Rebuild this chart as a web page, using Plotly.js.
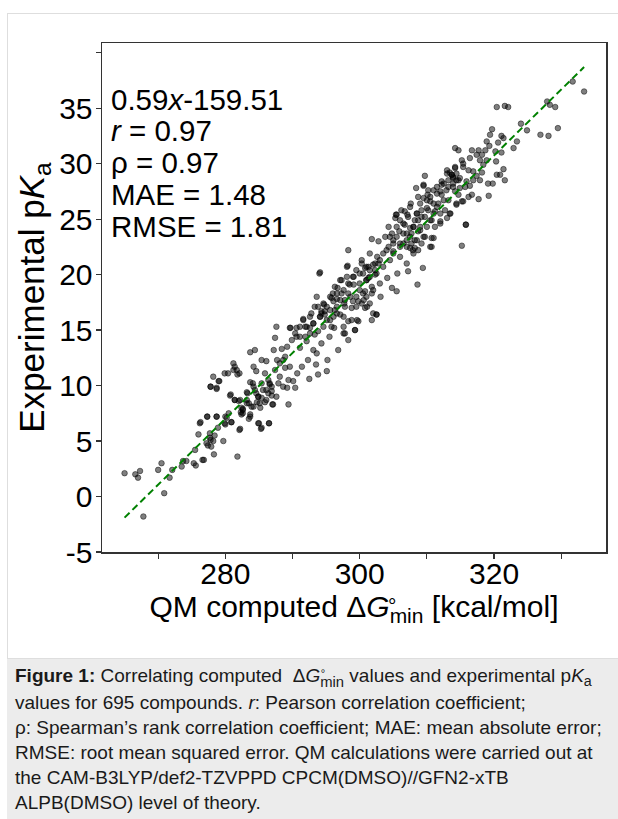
<!DOCTYPE html>
<html>
<head>
<meta charset="utf-8">
<script src="https://cdn.plot.ly/plotly-3.0.1.min.js"></script>
<style>
  html, body { margin:0; padding:0; background:#fff; }
  #wrap { position:relative; width:618px; height:819px; overflow:hidden; font-family:"Liberation Sans", Arial, Helvetica, sans-serif; }
  #frame { position:absolute; left:7px; top:13px; width:620px; height:646px; border:1px solid #dedede; box-sizing:border-box; }
  #chart { position:absolute; left:0; top:0; width:618px; height:659px; }
  #caption { position:absolute; left:7px; top:659px; width:611px; height:160px; background:#ececec; box-sizing:border-box;
             padding:4px 0 0 8px; font-size:19px; line-height:25px; color:#1a1a1a; white-space:nowrap; }
  .stk { position:relative; display:inline-block; font-size:0.78em; vertical-align:-0.32em; line-height:1; }
  .stk .deg { position:absolute; left:0.05em; top:-0.62em; font-size:0.75em; }
  .sb { font-size:0.75em; vertical-align:-0.3em; line-height:1; }
</style>
</head>
<body>
<div id="wrap">
  <div id="frame"></div>
  <div id="chart"></div>
  <div id="caption"><b>Figure 1:</b> Correlating computed &nbsp;Δ<i>G</i><span class="stk">min<span class="deg">°</span></span> values and experimental p<i>K</i><span class="sb">a</span><br>values for 695 compounds. <i>r</i>: Pearson correlation coefficient;<br>ρ: Spearman’s rank correlation coefficient; MAE: mean absolute error;<br>RMSE: root mean squared error. QM calculations were carried out at<br>the CAM-B3LYP/def2-TZVPPD CPCM(DMSO)//GFN2-xTB<br>ALPB(DMSO) level of theory.</div>
</div>
<script>
// ---- data ----
// lower-left region
const dgA  = [265.0,266.6,267.0,267.3,267.8,270.0,270.5,270.9,271.7,272.1,273.5,273.7,274.2,275.3,275.6,275.5,276.0,276.3,276.6,276.8,277.3,277.4,277.7,277.8,278.2,278.3,278.4,278.7,278.9,277.8,278.7,279.0,279.7,280.0,280.0,280.5,280.7,280.9,281.4,281.8,282.0,282.1,282.3,282.4,282.6,283.3,283.5,283.7,283.5,283.9,284.1,284.7,284.9,284.9,285.2,285.3,285.9,286.4,286.5,286.6,287.1,286.9,
              277.2,277.9,277.7,282.4,283.2,285.4,286.1,286.9,284.4,285.4];
const pkaA = [2.1,2.0,1.7,2.3,-1.8,2.4,3.0,0.3,1.7,2.4,2.7,3.2,3.2,3.0,2.8,4.2,5.6,6.7,3.3,3.3,7.2,4.6,5.7,5.1,5.0,3.8,5.5,7.2,6.2,9.9,9.7,10.4,5.0,7.2,6.5,7.5,9.1,6.7,8.7,3.6,8.6,6.0,7.6,7.4,7.8,9.3,7.0,7.4,8.4,8.1,10.2,8.5,9.0,6.6,8.0,6.1,8.5,9.3,6.6,10.2,8.3,9.1,
              4.8,4.5,5.3,8.0,8.7,8.9,9.6,9.9,9.6,10.2];
// lower-middle region
const dgB  = [276.2,277.3,278.7,278.2,277.8,278.7,279.1,279.9,280.4,281.2,281.4,281.7,282.1,280.8,279.9,280.2,280.9,281.4,282.2,282.2,282.6,282.6,283.2,283.2,283.7,283.7,284.4,284.2,284.6,284.9,285.0,285.4,286.5,285.6,286.1,285.4,285.9,286.1,286.6,287.0,286.9,287.2,287.4,287.6,287.7,288.1,287.9,288.4,288.6,288.9,289.2,289.4,289.2,289.7,289.9,290.1,290.4,290.7,290.6,291.1,291.4,291.6,291.9,292.1,292.3,292.5,292.6,292.8,293.1,293.3,293.5,293.6,293.8,293.8,294.0,294.1,294.3,294.6,294.7,294.8,295.2,295.1,295.5,295.6,295.8,296.0,296.2,296.3,296.6,296.7,296.8,297.1,297.3,297.6,297.7,297.8,298.1,298.2,298.3,298.3,298.6,298.8,299.1,299.3,299.6,299.8,300.0,300.3,300.5,300.8,301.0,301.3,301.5,301.8,302.0,302.3,302.5,302.8,
              281.2,281.8,284.2,284.6,285.1,284.2,283.7,286.4,287.4,288.1,288.9,289.6,289.4,288.6,287.6,291.1,292.1,293.1,293.8,294.3,295.1,296.1,296.6,297.6,298.3,299.1,299.5,300.8,301.5,302.0,301.0,297.6];
const pkaB = [6.6,7.2,7.2,10.8,9.9,9.8,10.4,11.1,11.1,12.0,11.7,11.4,11.1,9.2,6.6,7.1,6.7,8.7,8.7,6.1,7.5,7.9,9.4,8.4,10.3,13.0,13.2,11.7,11.3,9.0,6.6,6.2,6.6,9.6,8.7,12.3,11.1,12.2,10.1,8.3,9.5,13.2,14.3,15.3,12.3,10.8,10.2,13.3,12.3,11.6,13.5,8.3,9.8,15.2,14.1,10.4,9.8,11.1,15.2,13.4,11.7,15.9,14.4,14.0,12.3,10.6,15.2,16.5,13.2,14.6,11.9,12.9,11.0,17.1,20.1,16.2,13.8,15.3,17.3,16.7,12.3,11.3,14.4,15.9,17.9,18.3,15.2,16.8,17.8,18.8,13.2,16.4,19.5,15.3,17.4,14.7,19.8,20.8,15.8,14.1,18.0,17.0,19.1,15.0,15.9,17.6,20.1,21.0,18.3,17.0,19.5,20.7,17.4,15.9,18.6,20.0,16.4,21.0,
              11.4,11.0,9.9,9.3,8.4,8.1,7.2,10.5,11.4,12.0,12.6,11.7,10.5,9.9,9.0,14.4,15.3,15.6,14.9,16.5,17.1,17.6,18.3,18.6,19.2,19.8,20.4,20.6,19.8,20.9,18.0,16.2];
// central region
const dgC  = [289.6,290.4,291.6,291.9,292.6,293.6,294.1,293.3,294.3,294.8,294.6,295.6,295.8,296.1,296.3,296.6,297.1,297.3,297.6,297.8,298.1,298.3,298.5,298.8,299.0,299.3,299.5,299.8,300.0,300.3,300.5,300.6,301.0,301.1,301.3,301.5,301.8,301.8,302.0,302.3,302.5,302.6,302.8,303.0,303.1,303.5,303.8,304.0,304.1,304.3,304.5,304.8,305.0,305.3,305.4,305.5,305.6,305.9,306.0,306.2,306.5,306.7,307.0,307.1,307.2,307.5,307.6,307.9,308.2,308.4,308.5,308.6,308.7,309.0,309.2,309.4,309.5,309.7,309.7,310.0,310.2,310.5,310.7,311.0,311.2,311.5,311.7,312.0,312.2,312.5,312.7,313.0,313.2,313.5,313.9,314.2,314.4,314.7,314.9,315.2,315.4,315.8,315.9,315.4,314.2,
              313.0,313.7,314.4,314.9,313.9,313.2,312.2,311.5,310.5,311.0,310.0,309.2,308.5,308.0,308.7,307.5,307.7,308.2,307.0,306.5,306.0,305.5,304.5,304.3,305.0,303.5,303.0,302.3,301.5,302.5,301.0,301.8,300.8,300.0,299.5,300.3,299.0,298.3,297.8,297.1,296.6,295.6,295.1,294.1,293.1,292.6,291.1,290.6];
const pkaC = [15.2,14.7,16.0,15.3,14.7,18.0,20.2,17.1,16.7,16.4,17.4,18.0,15.3,16.2,18.9,17.1,19.5,18.3,14.7,17.7,20.7,22.2,19.1,15.9,19.8,15.0,17.1,15.8,18.6,21.3,20.1,17.7,20.7,17.1,19.7,21.9,23.2,18.3,16.5,20.4,16.4,21.6,23.0,19.2,18.0,20.7,23.4,22.2,19.7,24.3,21.3,18.8,22.8,25.1,25.4,18.5,20.1,23.9,21.6,25.8,22.8,24.5,21.0,25.4,20.3,23.4,26.4,22.2,24.9,27.8,23.1,19.1,27.0,24.3,25.8,20.6,28.1,28.9,23.4,26.7,27.6,24.9,22.5,23.3,25.7,27.9,26.4,24.8,27.2,28.2,25.8,29.1,26.7,25.5,28.8,27.5,26.4,28.5,27.8,22.6,26.6,24.5,28.4,30.0,29.7,
              29.4,29.0,29.1,28.7,28.2,27.9,28.4,27.3,27.0,26.4,26.0,25.2,25.5,24.3,23.9,24.2,22.8,22.4,23.1,23.7,22.5,23.4,23.4,22.5,21.9,21.9,21.3,21.0,20.4,20.1,19.5,18.9,18.5,19.2,18.0,17.4,17.6,18.3,17.1,17.7,16.5,16.8,15.9,16.2,15.6,16.2,15.3,14.4];
// upper region
const dgD  = [320.4,321.6,322.1,327.9,328.3,329.1,324.0,324.9,326.9,328.1,329.5,323.4,322.9,321.1,321.4,319.7,319.4,318.9,320.6,319.3,318.7,320.2,321.1,320.3,321.4,320.9,320.4,321.6,319.8,319.1,319.2,317.7,318.2,317.9,317.4,316.9,317.9,317.4,317.7,316.7,316.4,315.2,314.2,314.7,315.4,316.2,316.9,316.4,315.7,316.7,316.2,315.2,314.4,313.4,315.8,313.9,313.4,314.2,313.2,313.9,312.9,312.2,312.0,311.0,309.5,310.1,309.5,309.0,310.5,311.5,312.5,312.0,313.0,310.7,311.2,312.0,309.7,308.5,307.5,306.7,305.5,306.5,308.0,309.0,309.5,310.7,308.2,307.0,305.5,304.8,306.0,307.5,308.7,305.0,310.5,314.7,331.7,333.4,
              306.0,307.2,305.0,307.0,308.0,309.2,310.0,308.7,307.7,311.0,310.2,313.7,314.4,318.2,318.9,318.4];
const pkaD = [35.1,35.2,35.1,35.6,35.3,35.1,33.6,33.0,32.6,32.5,33.2,32.0,31.4,32.5,32.3,33.1,32.6,32.0,31.9,31.6,31.2,31.1,31.0,30.2,29.5,29.0,29.0,28.5,28.2,28.2,27.1,26.8,29.2,28.5,28.9,29.3,30.3,30.8,31.2,31.2,30.5,30.3,31.4,31.2,29.7,29.4,28.5,28.0,27.9,27.2,27.0,26.6,26.3,25.5,24.5,28.7,29.2,29.6,28.5,27.9,27.6,28.1,27.5,27.6,28.0,27.2,26.9,26.4,26.6,26.1,26.7,25.5,25.1,24.9,24.3,24.6,25.2,25.5,26.1,25.7,25.4,24.6,24.3,24.0,23.4,23.3,23.1,23.7,24.3,23.7,22.8,22.4,22.2,22.1,22.5,27.2,37.4,36.5,
              24.9,25.2,23.1,22.5,21.9,22.8,24.3,24.9,23.7,25.5,25.8,29.0,28.5,30.8,30.3,29.9];
// fitted line end points (as drawn)
const fitX = [265.0, 333.4];
const fitY = [-1.9, 38.7];
// ticks
const xTickVals = [280,300,320];
const xTickText = ['280','300','320'];
const xMinorVals = [270,290,310,330];
const yTickVals = [-5,0,5,10,15,20,25,30,35];
const yTickText = ['-5','0','5','10','15','20','25','30','35'];
const yMinorVals = [40];
const statLines = ['0.59<i>x</i>-159.51','<i>r</i> = 0.97','ρ = 0.97','MAE = 1.48','RMSE = 1.81'];

const dg  = dgA.concat(dgB, dgC, dgD);
const pka = pkaA.concat(pkaB, pkaC, pkaD);

const FONT = '"Liberation Sans", Arial, Helvetica, sans-serif';
const traces = [
  { type:'scatter', mode:'markers', x:dg, y:pka, hoverinfo:'skip',
    marker:{ size:5.6, color:'rgba(0,0,0,0.5)', line:{ color:'rgba(0,0,0,0.45)', width:1 } } },
  { type:'scatter', mode:'lines', x:fitX, y:fitY, hoverinfo:'skip',
    line:{ color:'#008000', width:2, dash:'7px,4px' } }
];
const axisCommon = {
  showgrid:false, zeroline:false, showline:true, mirror:true,
  linecolor:'#333', linewidth:1.5, ticks:'outside', ticklen:5, tickwidth:1.2, tickcolor:'#333',
  tickfont:{ family:FONT, size:30, color:'#000' }, tickmode:'array'
};
const annY = [0.8898, 0.8275, 0.7652, 0.7018, 0.6389];
const annotations = statLines.map((t,i)=>({
  text:t, xref:'paper', yref:'paper', x:0.014, y:annY[i], xanchor:'left', yanchor:'middle',
  showarrow:false, font:{ family:FONT, size:29.5, color:'#000' }
}));
// degree sign stacked above the "min" subscript of the x-axis title
annotations.push({ text:'°', xref:'paper', yref:'paper', x:0.576, y:-0.106, xanchor:'center', yanchor:'middle',
  showarrow:false, font:{ family:FONT, size:21, color:'#000' } });
const layout = {
  width:618, height:659, margin:{ l:102, r:12, t:43, b:107 },
  paper_bgcolor:'rgba(0,0,0,0)', plot_bgcolor:'#fff', showlegend:false,
  xaxis:Object.assign({}, axisCommon, { range:[261.64, 336.66], tickvals:xTickVals, ticktext:xTickText,
    ticklabelstandoff:-11,
    minor:{ tickmode:'array', tickvals:xMinorVals, ticks:'outside', ticklen:5, tickwidth:1.2, tickcolor:'#333', showgrid:false },
    title:{ text:'QM computed Δ<i>G</i><sub>min</sub> [kcal/mol]', font:{ family:FONT, size:30, color:'#000' }, standoff:4 } }),
  yaxis:Object.assign({}, axisCommon, { range:[-5, 40.87], tickvals:yTickVals, ticktext:yTickText,
    ticklabelstandoff:-3,
    minor:{ tickmode:'array', tickvals:yMinorVals, ticks:'outside', ticklen:5, tickwidth:1.2, tickcolor:'#333', showgrid:false },
    title:{ text:'Experimental p<i>K</i><sub>a</sub>', font:{ family:FONT, size:35, color:'#000' }, standoff:4 } }),
  annotations:annotations
};
Plotly.newPlot('chart', traces, layout, { staticPlot:true, displayModeBar:false });
</script>
</body>
</html>
